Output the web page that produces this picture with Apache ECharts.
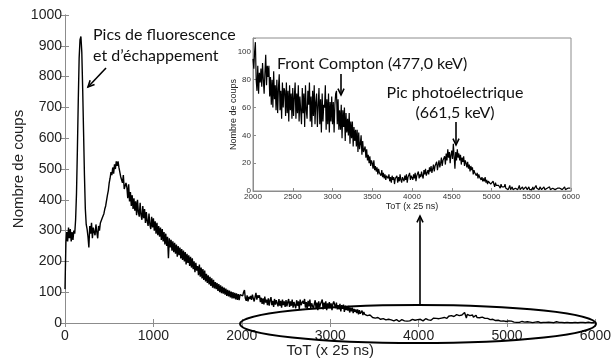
<!DOCTYPE html>
<html>
<head>
<meta charset="utf-8">
<script src="https://cdn.jsdelivr.net/npm/echarts@6/dist/echarts.min.js"></script>
<style>
  html, body { margin: 0; padding: 0; background: #fff; }
  #chart { width: 614px; height: 363px; }
</style>
</head>
<body>
<div id="chart"></div>
<script>
// largeur d'un canal ToT
var binWidth = 10;

// comptes 0 - 1990
var countsLow = [
    110, 260, 295, 265, 310, 275, 305, 265, 295, 270,
    300, 290, 335, 420, 560, 720, 860, 920, 930, 880,
    760, 620, 480, 370, 320, 305, 280, 245, 315, 290,
    325, 275, 310, 295, 285, 320, 295, 275, 315, 300,
    325, 330, 340, 345, 355, 370, 380, 385, 415, 430,
    455, 470, 490, 480, 505, 485, 515, 500, 525, 510,
    525, 505, 500, 475, 470, 455, 480, 435, 430, 455,
    440, 405, 450, 395, 425, 380, 415, 370, 405, 365,
    395, 350, 400, 360, 345, 390, 350, 335, 380, 340,
    370, 325, 360, 330, 315, 355, 320, 305, 345, 310,
    340, 300, 330, 290, 325, 285, 315, 280, 310, 270,
    305, 265, 295, 255, 290, 250, 280, 210, 275, 245,
    270, 235, 265, 230, 260, 225, 255, 215, 250, 220,
    245, 210, 240, 205, 235, 200, 230, 190, 225, 195,
    220, 185, 215, 180, 210, 175, 200, 165, 195, 170,
    185, 155, 190, 150, 180, 145, 175, 140, 170, 135,
    160, 130, 155, 125, 150, 120, 145, 115, 140, 112,
    133, 110, 130, 104, 126, 100, 122, 97, 118, 95,
    115, 92, 112, 88, 108, 86, 105, 83, 102, 80,
    100, 80, 98, 77, 96, 75, 94, 74, 92, 88
];

// comptes 2000 - 5990 (zone du zoom)
var countsHigh = [
    95, 88, 100, 107, 80, 72, 90, 70, 85, 78,
    88, 75, 92, 80, 70, 85, 98, 76, 90, 82,
    90, 68, 82, 62, 80, 60, 86, 66, 76, 58,
    80, 56, 74, 84, 58, 72, 52, 78, 60, 74,
    72, 54, 78, 56, 72, 50, 76, 58, 70, 52,
    74, 54, 68, 78, 52, 70, 56, 76, 50, 68,
    68, 48, 74, 56, 70, 46, 76, 58, 52, 72,
    62, 78, 50, 68, 46, 72, 54, 76, 48, 64,
    70, 46, 62, 74, 48, 66, 42, 70, 50, 62,
    60, 76, 44, 66, 48, 70, 42, 64, 50, 68,
    48, 64, 42, 62, 70, 72, 48, 66, 44, 58,
    44, 62, 38, 58, 46, 60, 36, 56, 42, 52,
    40, 56, 34, 50, 38, 50, 32, 46, 36, 44,
    32, 44, 28, 42, 30, 34, 40, 26, 36, 28,
    28, 32, 24, 30, 22, 26, 20, 25, 18, 22,
    20, 16, 22, 15, 18, 14, 17, 12, 16, 13,
    14, 11, 15, 10, 13, 9, 12, 8, 11, 10,
    9, 12, 7, 10, 6, 11, 8, 10, 5, 9,
    8, 11, 6, 10, 7, 12, 8, 6, 10, 9,
    7, 11, 8, 12, 6, 10, 9, 13, 8, 11,
    10, 8, 12, 9, 13, 7, 11, 10, 14, 9,
    12, 10, 14, 11, 9, 15, 12, 16, 11, 13,
    15, 12, 17, 14, 18, 13, 16, 19, 14, 18,
    17, 21, 15, 19, 22, 17, 20, 24, 18, 22,
    21, 25, 19, 27, 22, 30, 24, 28, 20, 26,
    29, 23, 34, 25, 16, 28, 22, 30, 24, 27,
    22, 26, 19, 24, 21, 25, 18, 22, 20, 17,
    21, 16, 19, 14, 18, 15, 17, 12, 15, 13,
    14, 11, 13, 9, 12, 10, 11, 8, 10, 7,
    9, 7, 10, 6, 8, 5, 7, 6, 8, 5,
    6, 4, 7, 5, 3, 6, 4, 5, 3, 4,
    4, 2, 5, 3, 2, 4, 3, 5, 2, 3,
    3, 1, 2, 4, 1, 2, 3, 1, 2, 1,
    2, 1, 3, 1, 2, 4, 1, 2, 1, 3,
    1, 2, 1, 3, 2, 1, 2, 3, 1, 2,
    2, 1, 3, 1, 2, 1, 4, 2, 1, 2,
    1, 3, 2, 1, 2, 1, 3, 1, 2, 1,
    2, 1, 2, 3, 1, 2, 1, 2, 1, 3,
    1, 2, 1, 2, 3, 1, 2, 1, 2, 1,
    2, 1, 3, 1, 2, 1, 2, 1, 1, 2
];

// graduations
var mainXTicks = [0, 1000, 2000, 3000, 4000, 5000, 6000];
var mainYTicks = [0, 100, 200, 300, 400, 500, 600, 700, 800, 900, 1000];
var insetXTicks = [2000, 2500, 3000, 3500, 4000, 4500, 5000, 5500, 6000];
var insetYTicks = [0, 20, 40, 60, 80, 100];

var allCounts = countsLow.concat(countsHigh);
var spectrum = allCounts.map(function (c, i) {
    return [i * binWidth, c];
});
var insetStart = countsLow.length * binWidth;
var insetSpectrum = countsHigh.map(function (c, i) {
    return [insetStart + i * binWidth, c];
});

var tickFont = 'Liberation Sans';
var noteFont = 'Lato';
var axisGray = '#8c8c8c';

// pas de separateur de milliers, seulement les graduations listees
function tickLabel(list) {
    return function (v) {
        return list.indexOf(v) >= 0 ? String(v) : '';
    };
}

function arrow(x1, y1, x2, y2) {
    // ligne + pointe ouverte vers (x2, y2)
    var a = Math.atan2(y2 - y1, x2 - x1);
    var L = 7, w = 0.45;
    return [
        {type: 'line', z: 20, shape: {x1: x1, y1: y1, x2: x2, y2: y2},
            style: {stroke: '#000', lineWidth: 1.6}},
        {type: 'polyline', z: 20, shape: {points: [
            [x2 - L * Math.cos(a - w), y2 - L * Math.sin(a - w)],
            [x2, y2],
            [x2 - L * Math.cos(a + w), y2 - L * Math.sin(a + w)]
        ]}, style: {stroke: '#000', lineWidth: 1.6, fill: null}}
    ];
}

function note(text, x, y, align) {
    return {
        type: 'text', z: 20, x: x, y: y,
        style: {
            text: text, fill: '#111', font: '16px ' + noteFont,
            align: align || 'left', verticalAlign: 'middle', lineHeight: 21
        }
    };
}

var graphics = [
    note('Pics de fluorescence\net d\u2019échappement', 93, 45),
    note('Front Compton (477,0 keV)', 277, 64),
    note('Pic photoélectrique', 455, 93, 'center'),
    note('(661,5 keV)', 455, 113, 'center'),
    {type: 'ellipse', z: 20, shape: {cx: 418, cy: 324, rx: 178, ry: 19},
        style: {stroke: '#000', lineWidth: 2, fill: null}}
].concat(arrow(106, 68, 88, 87))
 .concat(arrow(341, 74, 341, 95))
 .concat(arrow(456, 122, 456, 145))
 .concat(arrow(420, 305, 420, 216));

var myChart = echarts.init(document.getElementById('chart'));

function valueAxis(extra) {
    var base = {
        type: 'value',
        nameMoveOverlap: false,
        axisLine: {show: true, lineStyle: {color: axisGray, width: 1}},
        axisTick: {show: true, inside: true, length: 4, lineStyle: {color: axisGray}},
        splitLine: {show: false},
        axisLabel: {color: '#222', fontFamily: tickFont, fontSize: 14}
    };
    for (var k in extra) {
        base[k] = extra[k];
    }
    return base;
}

var option = {
    animation: false,
    backgroundColor: '#fff',
    grid: [
        {left: 65, top: 15, width: 531, height: 309, z: 0},
        {left: 253, top: 38, width: 318, height: 153, show: true,
            backgroundColor: '#fff', borderColor: axisGray, borderWidth: 1, z: 5}
    ],
    xAxis: [
        valueAxis({gridIndex: 0, min: mainXTicks[0], max: mainXTicks[mainXTicks.length - 1],
            interval: mainXTicks[1] - mainXTicks[0],
            name: 'ToT (x 25 ns)', nameLocation: 'middle', nameGap: 20,
            nameTextStyle: {fontFamily: tickFont, fontSize: 15, color: '#222'},
            axisLabel: {color: '#222', fontFamily: tickFont, fontSize: 14, margin: 6,
                formatter: tickLabel(mainXTicks)}}),
        valueAxis({gridIndex: 0, position: 'top', min: mainXTicks[0],
            max: mainXTicks[mainXTicks.length - 1], interval: mainXTicks[1] - mainXTicks[0],
            axisLabel: {show: false}}),
        valueAxis({gridIndex: 1, min: insetXTicks[0], max: insetXTicks[insetXTicks.length - 1],
            interval: insetXTicks[1] - insetXTicks[0], z: 6,
            name: 'ToT (x 25 ns)', nameLocation: 'middle', nameGap: 11,
            nameTextStyle: {fontFamily: tickFont, fontSize: 9, color: '#222'},
            axisTick: {show: true, inside: true, length: 3, lineStyle: {color: axisGray}},
            axisLabel: {color: '#333', fontFamily: tickFont, fontSize: 8, margin: 2,
                formatter: tickLabel(insetXTicks)}})
    ],
    yAxis: [
        valueAxis({gridIndex: 0, min: mainYTicks[0], max: mainYTicks[mainYTicks.length - 1],
            interval: mainYTicks[1] - mainYTicks[0],
            name: 'Nombre de coups', nameLocation: 'middle', nameGap: 39,
            nameTextStyle: {fontFamily: tickFont, fontSize: 15, color: '#222'},
            axisLabel: {color: '#222', fontFamily: tickFont, fontSize: 14, margin: 3,
                formatter: tickLabel(mainYTicks)}}),
        valueAxis({gridIndex: 0, position: 'right', min: mainYTicks[0],
            max: mainYTicks[mainYTicks.length - 1], interval: mainYTicks[1] - mainYTicks[0],
            axisLabel: {show: false}}),
        valueAxis({gridIndex: 1, min: insetYTicks[0], max: 110,
            interval: insetYTicks[1] - insetYTicks[0], z: 6,
            name: 'Nombre de coups', nameLocation: 'middle', nameGap: 15,
            nameTextStyle: {fontFamily: tickFont, fontSize: 9, color: '#222'},
            axisTick: {show: true, inside: true, length: 3, lineStyle: {color: axisGray}},
            axisLabel: {color: '#333', fontFamily: tickFont, fontSize: 8, margin: 2,
                formatter: tickLabel(insetYTicks)}})
    ],
    series: [
        {
            type: 'line', xAxisIndex: 0, yAxisIndex: 0, z: 1,
            data: spectrum, showSymbol: false, silent: true,
            lineStyle: {color: '#000', width: 1.4}
        },
        {
            type: 'line', xAxisIndex: 2, yAxisIndex: 2, z: 7,
            data: insetSpectrum, showSymbol: false, silent: true,
            lineStyle: {color: '#000', width: 1.2}
        }
    ],
    graphic: graphics
};

myChart.setOption(option);
</script>
</body>
</html>
